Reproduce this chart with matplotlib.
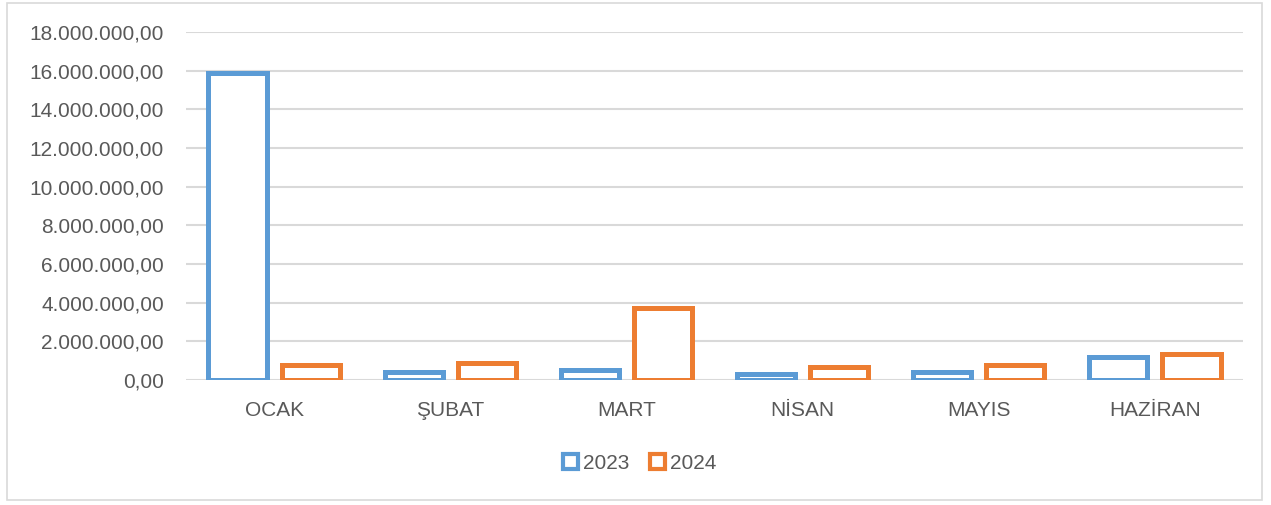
import numpy as np
import matplotlib.pyplot as plt
from matplotlib.patches import Rectangle, Patch
from matplotlib.ticker import FuncFormatter

plt.rcParams['font.family'] = ['Liberation Sans', 'DejaVu Sans']

months = ["OCAK", "ŞUBAT", "MART", "NİSAN", "MAYIS", "HAZİRAN"]
vals_2023 = [15900000, 410000, 540000, 300000, 440000, 1190000]
vals_2024 = [780000, 900000, 3720000, 650000, 800000, 1370000]

blue = "#5B9BD5"
orange = "#ED7D31"
grey_txt = "#595959"

def tr_fmt(v, pos):
    s = f"{v:,.2f}"
    return s.replace(",", "X").replace(".", ",").replace("X", ".")

fig = plt.figure(figsize=(12.71, 5.05), dpi=100)
ax = fig.add_axes([186 / 1271, 0.2475, 1057 / 1271, 0.6891])

x = np.arange(len(months))
w = 0.33
off = 0.208
ax.bar(x - off, vals_2023, w, facecolor="white", edgecolor=blue, linewidth=3.6, zorder=3)
ax.bar(x + off, vals_2024, w, facecolor="white", edgecolor=orange, linewidth=3.6, zorder=3)

ax.set_xlim(-0.5, len(months) - 0.5)
ax.set_ylim(0, 18000000)
ax.set_yticks(np.arange(0, 18000001, 2000000))
ax.yaxis.set_major_formatter(FuncFormatter(tr_fmt))
ax.set_xticks(x)
ax.set_xticklabels(months)
ax.tick_params(axis="both", length=0, labelsize=15, labelcolor=grey_txt)
ax.tick_params(axis="y", pad=16)
ax.tick_params(axis="x", pad=15)
ax.grid(axis="y", color="#d9d9d9", linewidth=1.5, zorder=0)
for s in ax.spines.values():
    s.set_visible(False)

handles = [Patch(facecolor="white", edgecolor=blue, linewidth=3, label="2023"),
           Patch(facecolor="white", edgecolor=orange, linewidth=3, label="2024")]
fig.legend(handles=handles, loc="center", bbox_to_anchor=(0.503, 0.083), ncol=2,
           frameon=False, fontsize=15, labelcolor=grey_txt, handlelength=0.75,
           handleheight=0.75, handletextpad=0.2, columnspacing=1.0)

fig.patches.append(Rectangle((7 / 1271, 5 / 505), 1255 / 1271, 497 / 505,
                             transform=fig.transFigure, fill=False,
                             edgecolor="#d9d9d9", linewidth=1.2))

fig.savefig("out.png", dpi=100)
